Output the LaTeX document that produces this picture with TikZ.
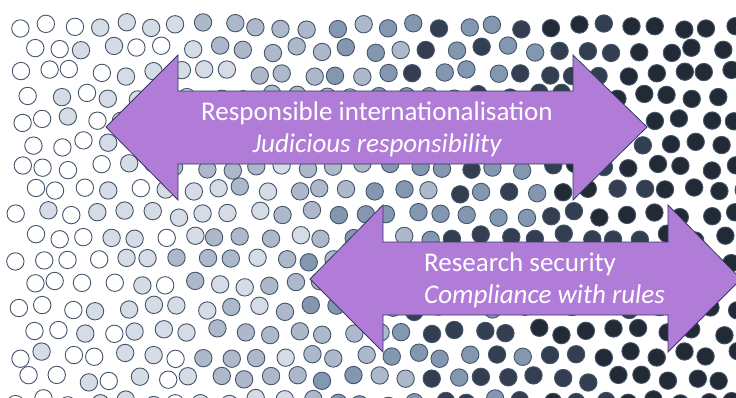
\documentclass[tikz,border=0pt]{standalone}
\usepackage{fontspec}
\setmainfont{Carlito}
\usepackage{tikz}
\usetikzlibrary{calc}
\usepackage{xcolor}

\definecolor{shade0}{HTML}{FFFFFF}
\definecolor{shade1}{HTML}{D6DCE5}
\definecolor{shade2}{HTML}{ADB9CA}
\definecolor{shade3}{HTML}{8497B0}
\definecolor{shade4}{HTML}{333F50}
\definecolor{shade5}{HTML}{222A35}
\definecolor{rim}{HTML}{44546A}
\definecolor{lilac}{HTML}{B07CD8}
\definecolor{lilacrim}{HTML}{2F3A5C}

\begin{document}
\begin{tikzpicture}[x = 1pt, y = -1pt,
    dot/.style = {draw = rim, line width = 0.9pt},
    bigarrow/.style = {fill = lilac, draw = lilacrim, line width = 0.8pt, line join = miter},
    arrowtext/.style = {text = white, font = \fontsize{27}{32}\selectfont, inner sep = 0pt}]
    \clip (0,0) rectangle (736,397);
    \fill[white] (0,0) rectangle (736,397);
    \pgfmathsetseed{4242}
    % scattered dots, light on the left and dark on the right
    \foreach \row in {0,...,16}{
        \foreach \col in {0,...,28}{
            \pgfmathsetmacro{\cx}{19+\col*26.5+mod(\row,2)*13+4.5*rand}
            \pgfmathsetmacro{\cy}{26+\row*23.5+4*rand}
            \pgfmathtruncatemacro{\lvl}{max(0,min(5,round((\cx-62)/118+0.75*rand)))}
            \draw[dot, fill = shade\lvl] (\cx,\cy) circle (8.7pt);
        }
    }
    % upper double arrow
    \draw[bigarrow] (106,127) -- (178,55) -- (178,91) -- (573,91) -- (573,55) -- (647,127)
        -- (573,200) -- (573,164) -- (178,164) -- (178,200) -- cycle;
    \node[arrowtext, anchor = base] (resp) at (377,120.7) {Responsible internationalisation};
    \node[arrowtext, anchor = base] (judic) at (377,152.7) {\itshape Judicious responsibility};
    % lower double arrow, running off the right edge
    \draw[bigarrow] (310,279) -- (383,205) -- (383,242) -- (668,242) -- (668,205) -- (741,279)
        -- (668,352) -- (668,315) -- (383,315) -- (383,352) -- cycle;
    \node[arrowtext, anchor = base west] (secur) at (424,271.7) {Research security};
    \node[arrowtext, anchor = base west] (rules) at (424,303.3) {\itshape Compliance with rules};
\end{tikzpicture}
\end{document}
